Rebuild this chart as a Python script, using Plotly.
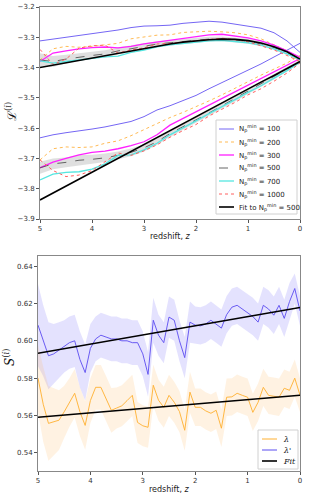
import plotly.graph_objects as go

# ---------------- top panel data (z from 5 to 0, step 0.25) ----------------
z_top = [5.0, 4.75, 4.5, 4.25, 4.0, 3.75, 3.5, 3.25, 3.0, 2.75, 2.5, 2.25, 2.0,
         1.75, 1.5, 1.25, 1.0, 0.75, 0.5, 0.25, 0.0]

# upper branch
up_100 = [-3.312, -3.306, -3.300, -3.296, -3.290, -3.282, -3.276, -3.268, -3.263, -3.262, -3.260,
          -3.254, -3.250, -3.247, -3.250, -3.256, -3.262, -3.270, -3.285, -3.312, -3.350]
up_200 = [-3.375, -3.338, -3.330, -3.333, -3.330, -3.325, -3.320, -3.305, -3.298, -3.293, -3.292,
          -3.284, -3.282, -3.280, -3.282, -3.285, -3.292, -3.305, -3.325, -3.345, -3.368]
up_300 = [-3.380, -3.352, -3.345, -3.338, -3.334, -3.332, -3.335, -3.330, -3.322, -3.316, -3.312,
          -3.305, -3.298, -3.292, -3.290, -3.295, -3.302, -3.312, -3.326, -3.345, -3.366]
up_500 = [-3.375, -3.380, -3.372, -3.365, -3.360, -3.355, -3.345, -3.338, -3.330, -3.322, -3.318,
          -3.314, -3.310, -3.306, -3.305, -3.309, -3.313, -3.322, -3.334, -3.350, -3.372]
up_700 = [-3.378, -3.385, -3.380, -3.375, -3.368, -3.365, -3.362, -3.350, -3.342, -3.332, -3.325,
          -3.320, -3.316, -3.312, -3.310, -3.315, -3.318, -3.326, -3.338, -3.355, -3.374]
up_1000 = [-3.340, -3.390, -3.372, -3.336, -3.328, -3.326, -3.352, -3.342, -3.335, -3.322, -3.320,
           -3.316, -3.310, -3.306, -3.303, -3.308, -3.315, -3.328, -3.342, -3.360, -3.380]
up_fit = [-3.400, -3.392, -3.385, -3.377, -3.369, -3.361, -3.352, -3.344, -3.336, -3.329, -3.322,
          -3.316, -3.311, -3.308, -3.306, -3.307, -3.311, -3.319, -3.331, -3.348, -3.372]
up_sig500 = [0.022, 0.018, 0.014, 0.012, 0.011, 0.012, 0.011, 0.010, 0.010, 0.009, 0.009,
             0.008, 0.008, 0.008, 0.008, 0.008, 0.008, 0.008, 0.008, 0.008, 0.006]

# lower branch
lo_100 = [-3.632, -3.622, -3.615, -3.610, -3.603, -3.596, -3.588, -3.578, -3.562, -3.540, -3.526,
          -3.510, -3.492, -3.470, -3.450, -3.430, -3.410, -3.388, -3.365, -3.342, -3.320]
lo_200 = [-3.705, -3.668, -3.662, -3.664, -3.662, -3.650, -3.642, -3.625, -3.605, -3.585, -3.565,
          -3.548, -3.530, -3.510, -3.490, -3.468, -3.448, -3.425, -3.405, -3.385, -3.360]
lo_300 = [-3.731, -3.712, -3.700, -3.688, -3.680, -3.676, -3.668, -3.658, -3.645, -3.622, -3.590,
          -3.568, -3.548, -3.525, -3.503, -3.480, -3.458, -3.437, -3.414, -3.392, -3.370]
lo_500 = [-3.731, -3.718, -3.713, -3.706, -3.703, -3.698, -3.690, -3.680, -3.665, -3.645, -3.618,
          -3.596, -3.572, -3.550, -3.526, -3.502, -3.478, -3.455, -3.430, -3.405, -3.380]
lo_700 = [-3.771, -3.752, -3.746, -3.744, -3.735, -3.718, -3.690, -3.688, -3.672, -3.650, -3.622,
          -3.600, -3.576, -3.552, -3.530, -3.506, -3.482, -3.460, -3.435, -3.410, -3.382]
lo_1000 = [-3.705, -3.740, -3.760, -3.755, -3.740, -3.712, -3.682, -3.690, -3.675, -3.655, -3.630,
           -3.608, -3.588, -3.560, -3.538, -3.515, -3.490, -3.470, -3.445, -3.418, -3.385]
lo_fit = [-3.837, -3.814, -3.791, -3.768, -3.746, -3.723, -3.700, -3.677, -3.654, -3.631, -3.608,
          -3.586, -3.563, -3.540, -3.517, -3.494, -3.471, -3.448, -3.426, -3.403, -3.380]
lo_sig500 = [0.020, 0.018, 0.016, 0.017, 0.015, 0.014, 0.013, 0.013, 0.012, 0.011, 0.011,
             0.010, 0.010, 0.010, 0.010, 0.010, 0.009, 0.009, 0.009, 0.008, 0.006]

# ---------------- bottom panel data (z from 5 to 0, step 0.1) ----------------
z_bot = [5.0, 4.9, 4.8, 4.7, 4.6, 4.5, 4.4, 4.3, 4.2, 4.1, 4.0, 3.9, 3.8, 3.7, 3.6, 3.5, 3.4,
         3.3, 3.2, 3.1, 3.0, 2.9, 2.8, 2.7, 2.6, 2.5, 2.4, 2.3, 2.2, 2.1, 2.0, 1.9, 1.8, 1.7,
         1.6, 1.5, 1.4, 1.3, 1.2, 1.1, 1.0, 0.9, 0.8, 0.7, 0.6, 0.5, 0.4, 0.3, 0.2, 0.1, 0.0]
lam_p = [0.6084, 0.600, 0.592, 0.593, 0.595, 0.597, 0.599, 0.600, 0.590, 0.583, 0.596, 0.601,
         0.603, 0.602, 0.601, 0.601, 0.600, 0.600, 0.599, 0.599, 0.593, 0.582, 0.611, 0.603,
         0.599, 0.6127, 0.611, 0.600, 0.591, 0.610, 0.6084, 0.608, 0.609, 0.611, 0.609, 0.6068,
         0.614, 0.618, 0.619, 0.617, 0.6154, 0.613, 0.610, 0.619, 0.617, 0.6137, 0.619, 0.612,
         0.621, 0.628, 0.616]
lam_p_sig = [0.022, 0.019, 0.018, 0.016, 0.015, 0.014, 0.014, 0.014, 0.015, 0.015, 0.013, 0.012,
             0.012, 0.012, 0.012, 0.012, 0.012, 0.012, 0.012, 0.012, 0.012, 0.012, 0.012, 0.011,
             0.011, 0.011, 0.011, 0.011, 0.011, 0.011, 0.010, 0.010, 0.010, 0.010, 0.010, 0.010,
             0.010, 0.010, 0.010, 0.010, 0.010, 0.010, 0.010, 0.010, 0.010, 0.010, 0.010, 0.010,
             0.010, 0.008, 0.008]
lam = [0.580, 0.566, 0.5558, 0.5565, 0.5575, 0.562, 0.567, 0.5719, 0.562, 0.5547, 0.568, 0.5751,
       0.5751, 0.569, 0.5628, 0.564, 0.5652, 0.568, 0.5708, 0.5563, 0.5545, 0.5537, 0.5762,
       0.5682, 0.5644, 0.5708, 0.5671, 0.5621, 0.5521, 0.5725, 0.5644, 0.5644, 0.5625, 0.5612,
       0.5628, 0.5532, 0.5698, 0.570, 0.5719, 0.5708, 0.5698, 0.5617, 0.5671, 0.5751, 0.5708,
       0.5703, 0.5698, 0.5746, 0.5735, 0.580, 0.5709]
lam_sig = [0.018, 0.020, 0.020, 0.018, 0.016, 0.014, 0.013, 0.013, 0.013, 0.013, 0.012, 0.012,
           0.012, 0.012, 0.012, 0.011, 0.011, 0.011, 0.011, 0.011, 0.011, 0.011, 0.011, 0.011,
           0.011, 0.011, 0.011, 0.011, 0.011, 0.011, 0.010, 0.010, 0.010, 0.010, 0.010, 0.010,
           0.010, 0.010, 0.010, 0.010, 0.010, 0.010, 0.010, 0.010, 0.010, 0.010, 0.010, 0.010,
           0.010, 0.010, 0.009]
fit_z = [5.0, 0.0]
fit_lam_p = [0.5933, 0.6178]
fit_lam = [0.5591, 0.5709]

labels_top = ["N<sub>p</sub><sup>min</sup> = 100", "N<sub>p</sub><sup>min</sup> = 200",
              "N<sub>p</sub><sup>min</sup> = 300", "N<sub>p</sub><sup>min</sup> = 500",
              "N<sub>p</sub><sup>min</sup> = 700", "N<sub>p</sub><sup>min</sup> = 1000",
              "Fit to N<sub>p</sub><sup>min</sup> = 500"]
labels_bot = ["<i>λ</i>", "<i>λ'</i>", "<i>Fit</i>"]

C100 = "#7566f4"
C200 = "#ffbb55"
C300 = "#ff20ff"
C500 = "#555555"
C700 = "#55e6e0"
C1000 = "#ff6060"
CL = "#ffb030"
CLP = "#5b4cf0"

W, H = 314, 496
fig = go.Figure()

def band(x, y, s, color, xa, ya):
    hi = [a + b for a, b in zip(y, s)]
    lo = [a - b for a, b in zip(y, s)]
    fig.add_trace(go.Scatter(x=x, y=hi, mode="lines", line=dict(width=0), showlegend=False,
                             hoverinfo="skip", xaxis=xa, yaxis=ya))
    fig.add_trace(go.Scatter(x=x, y=lo, mode="lines", line=dict(width=0), fill="tonexty",
                             fillcolor=color, showlegend=False, hoverinfo="skip", xaxis=xa, yaxis=ya))

band(z_top, up_500, up_sig500, "rgba(150,150,150,0.3)", "x", "y")
band(z_top, lo_500, lo_sig500, "rgba(150,150,150,0.3)", "x", "y")

series = [
    (up_100, lo_100, C100, "solid", 1.0),
    (up_200, lo_200, C200, "dot", 1.0),
    (up_300, lo_300, C300, "solid", 1.3),
    (up_500, lo_500, C500, "dash", 0.9),
    (up_700, lo_700, C700, "solid", 1.3),
    (up_1000, lo_1000, C1000, "dot", 1.0),
    (up_fit, lo_fit, "black", "solid", 1.6),
]
for up, lo, col, dash, w in series:
    for yy in (up, lo):
        fig.add_trace(go.Scatter(x=z_top, y=yy, mode="lines", line=dict(color=col, dash=dash, width=w),
                                 showlegend=False, xaxis="x", yaxis="y"))

band(z_bot, lam_p, lam_p_sig, "rgba(120,110,250,0.2)", "x2", "y2")
band(z_bot, lam, lam_sig, "rgba(255,190,110,0.2)", "x2", "y2")
fig.add_trace(go.Scatter(x=z_bot, y=lam, mode="lines", line=dict(color=CL, width=0.9),
                         showlegend=False, xaxis="x2", yaxis="y2"))
fig.add_trace(go.Scatter(x=z_bot, y=lam_p, mode="lines", line=dict(color=CLP, width=0.9),
                         showlegend=False, xaxis="x2", yaxis="y2"))
fig.add_trace(go.Scatter(x=fit_z, y=fit_lam_p, mode="lines", line=dict(color="black", width=1.5),
                         showlegend=False, xaxis="x2", yaxis="y2"))
fig.add_trace(go.Scatter(x=fit_z, y=fit_lam, mode="lines", line=dict(color="black", width=1.5),
                         showlegend=False, xaxis="x2", yaxis="y2"))

# ---------------- hand-built legends (pixel layout) ----------------
def px(x):
    return x / W

def py(y):
    return 1 - y / H

shapes = []
annotations = []

def legend_box(x0, y0, x1, y1):
    shapes.append(dict(type="rect", xref="paper", yref="paper", x0=px(x0), x1=px(x1),
                       y0=py(y1), y1=py(y0), line=dict(color="#d0d0d0", width=1),
                       fillcolor="rgba(255,255,255,0.85)", layer="above"))

def legend_item(xl0, xl1, xt, yc, col, dash, w, text, fam, size):
    shapes.append(dict(type="line", xref="paper", yref="paper", x0=px(xl0), x1=px(xl1),
                       y0=py(yc), y1=py(yc), line=dict(color=col, dash=dash, width=w), layer="above"))
    annotations.append(dict(text=text, x=px(xt), y=py(yc), xref="paper", yref="paper",
                            showarrow=False, xanchor="left", yanchor="middle",
                            font=dict(family=fam, size=size, color="#222222")))

legend_box(216, 120, 297, 214)
top_y = [129, 142, 155, 168, 181, 194, 207]
for (up, lo, col, dash, w), lab, yc in zip(series, labels_top, top_y):
    legend_item(219, 234, 237, yc, col, dash, w, lab, "DejaVu Sans", 7)

legend_box(258, 430, 298, 469)
bot_items = [(CL, 1.0), (CLP, 1.0), ("black", 1.6)]
for (col, w), lab, yc in zip(bot_items, labels_bot, [439, 450, 461]):
    legend_item(262, 277, 281, yc, col, "solid", w, lab, "DejaVu Serif", 8)

annotations += [
    dict(text="redshift, <i>z</i>", x=px(170), y=py(236), xref="paper", yref="paper",
         showarrow=False, font=dict(family="DejaVu Sans", size=8, color="#222222"),
         xanchor="center", yanchor="middle"),
    dict(text="redshift, <i>z</i>", x=px(169), y=py(489), xref="paper", yref="paper",
         showarrow=False, font=dict(family="DejaVu Sans", size=8, color="#222222"),
         xanchor="center", yanchor="middle"),
    dict(text="ℒ<sup>(<i>i</i>)</sup>", x=px(11), y=py(112), xref="paper", yref="paper",
         showarrow=False, textangle=-90, font=dict(family="DejaVu Serif", size=12, color="#111111"),
         xanchor="center", yanchor="middle"),
    dict(text="<i>S</i><sup>(<i>i</i>)</sup>", x=px(9), y=py(358), xref="paper", yref="paper",
         showarrow=False, textangle=-90, font=dict(family="DejaVu Serif", size=12, color="#111111"),
         xanchor="center", yanchor="middle"),
]

axis_common = dict(showgrid=False, zeroline=False, showline=True, mirror=True, linecolor="#888888",
                   linewidth=1, ticks="outside", ticklen=3, tickcolor="#555555", tickwidth=0.8,
                   tickfont=dict(family="DejaVu Sans", size=7, color="#333333"), automargin=False)

fig.update_layout(
    width=W, height=H, margin=dict(l=0, r=0, t=0, b=0),
    paper_bgcolor="white", plot_bgcolor="white", showlegend=False,
    xaxis=dict(domain=[px(40), px(300)], range=[5, 0], tickvals=[5, 4, 3, 2, 1, 0],
               ticktext=["5", "4", "3", "2", "1", "0"], anchor="y", **axis_common),
    yaxis=dict(domain=[py(219), py(7)], range=[-3.9, -3.2], dtick=0.1,
               tickformat=".1f", anchor="x", **axis_common),
    xaxis2=dict(domain=[px(38), px(300)], range=[5, 0], tickvals=[5, 4, 3, 2, 1, 0],
                ticktext=["5", "4", "3", "2", "1", "0"], anchor="y2", **axis_common),
    yaxis2=dict(domain=[py(471), py(256)], range=[0.5303, 0.6454],
                tickvals=[0.54, 0.56, 0.58, 0.60, 0.62, 0.64], tickformat=".2f", anchor="x2",
                **axis_common),
    shapes=shapes,
    annotations=annotations,
)

fig.write_html("out.html")
